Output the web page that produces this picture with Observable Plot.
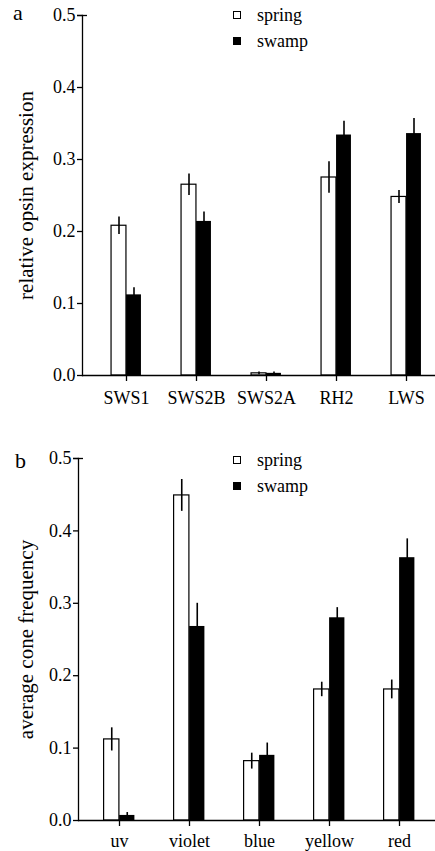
<!DOCTYPE html>
<html>
<head>
<meta charset="utf-8">
<script src="https://cdn.jsdelivr.net/npm/d3@7"></script>
<script src="https://cdn.jsdelivr.net/npm/@observablehq/plot@0.6"></script>
<style>
  html, body { margin: 0; padding: 0; background: #fff; }
  #root { position: relative; width: 435px; height: 851px; overflow: hidden; font-family: "Liberation Serif", "Times New Roman", serif; color: #000; }
  #root svg, #root svg text { font-family: "Liberation Serif", "Times New Roman", serif !important; }
  .panel { position: absolute; left: 0; }
  .letter { position: absolute; font-size: 22px; line-height: 1; }
  .leg { position: absolute; font-size: 18px; line-height: 1; display: flex; align-items: center; }
  .sw { display: inline-block; width: 8px; height: 8px; box-sizing: border-box; border: 1px solid #000; margin-right: 16px; }
</style>
</head>
<body>
<div id="root"></div>
<script>
// ---- data ----
const series = ["spring", "swamp"];

const opsins = ["SWS1", "SWS2B", "SWS2A", "RH2", "LWS"];
const opsinSpring = [0.208, 0.265, 0.003, 0.275, 0.248];
const opsinSpringErr = [0.012, 0.015, 0.002, 0.022, 0.009];
const opsinSwamp = [0.112, 0.214, 0.003, 0.334, 0.336];
const opsinSwampErr = [0.010, 0.013, 0.002, 0.019, 0.021];

const cones = ["uv", "violet", "blue", "yellow", "red"];
const coneSpring = [0.112, 0.449, 0.082, 0.181, 0.181];
const coneSpringErr = [0.016, 0.022, 0.011, 0.010, 0.013];
const coneSwamp = [0.007, 0.268, 0.090, 0.280, 0.363];
const coneSwampErr = [0.004, 0.032, 0.017, 0.014, 0.026];

const yTicks = [0, 0.1, 0.2, 0.3, 0.4, 0.5];
const yLabelA = "relative opsin expression";
const yLabelB = "average cone frequency";

const FONT = '"Liberation Serif", "Times New Roman", serif';

function rows(cats, vals, errs, s) {
  return cats.map((c, i) => ({cat: c, value: vals[i], err: errs[i], series: s}));
}

function panel({cats, spring, swamp, yLabel, height, marginTop, marginBottom, marginLeft, xRange, barW, tickPadX, tickSizeY, tickPadY, labelDx}) {
  const bw = (xRange[1] - xRange[0]) / cats.length;
  const half = barW;
  return Plot.plot({
    width: 435,
    height,
    marginTop,
    marginBottom,
    marginLeft,
    marginRight: 0,
    style: {fontFamily: FONT, fontSize: "18px", background: "transparent", color: "#000", overflow: "visible"},
    x: {type: "band", domain: cats, range: xRange, padding: 0},
    y: {domain: [0, 0.5]},
    marks: [
      Plot.barY(spring, {x: "cat", y: "value", fill: "white", stroke: "black", strokeWidth: 1.2, insetLeft: bw / 2 - half, insetRight: bw / 2}),
      Plot.barY(swamp, {x: "cat", y: "value", fill: "black", insetLeft: bw / 2, insetRight: bw / 2 - half}),
      Plot.ruleX(spring, {x: "cat", y1: d => d.value - d.err, y2: d => d.value + d.err, dx: -half / 2, stroke: "black", strokeWidth: 1.6}),
      Plot.ruleX(swamp, {x: "cat", y1: d => d.value - d.err, y2: d => d.value + d.err, dx: half / 2, stroke: "black", strokeWidth: 1.6}),
      Plot.ruleY([0], {stroke: "black", strokeWidth: 1.3}),
      Plot.frame({anchor: "left", stroke: "black", strokeWidth: 1.3}),
      Plot.axisY({ticks: yTicks, tickFormat: d3.format(".1f"), tickSize: tickSizeY, tickPadding: tickPadY, strokeWidth: 1.3, label: null, fontSize: 18}),
      Plot.axisY({ticks: [yTicks[yTicks.length - 1]], tickFormat: () => "", tickSize: 10, dx: 5, strokeWidth: 1.3, label: null}),
      Plot.axisX({tickSize: 6, tickPadding: tickPadX, strokeWidth: 1.3, label: null, fontSize: 18}),
      Plot.text([yLabel], {text: d => d, frameAnchor: "left", textAnchor: "middle", rotate: -90, dx: labelDx, fontSize: 21})
    ]
  });
}

const root = document.getElementById("root");

const a = panel({
  cats: opsins,
  spring: rows(opsins, opsinSpring, opsinSpringErr, series[0]),
  swamp: rows(opsins, opsinSwamp, opsinSwampErr, series[1]),
  yLabel: yLabelA,
  height: 425, marginTop: 15, marginBottom: 50, marginLeft: 82,
  xRange: [91, 441.5], barW: 15, tickPadX: 10, tickSizeY: 5, tickPadY: 2, labelDx: -56
});
a.classList.add("panel"); a.style.top = "0px";
root.appendChild(a);

const b = panel({
  cats: cones,
  spring: rows(cones, coneSpring, coneSpringErr, series[0]),
  swamp: rows(cones, coneSwamp, coneSwampErr, series[1]),
  yLabel: yLabelB,
  height: 426, marginTop: 33, marginBottom: 31, marginLeft: 78,
  xRange: [83, 434], barW: 15.5, tickPadX: 8, tickSizeY: 5, tickPadY: 2, labelDx: -52
});
b.classList.add("panel"); b.style.top = "425px";
root.appendChild(b);

// panel letters
function addLetter(t, left, top) {
  const el = document.createElement("div");
  el.className = "letter"; el.textContent = t;
  el.style.left = left + "px"; el.style.top = top + "px";
  root.appendChild(el);
}
addLetter("a", 13, 2);
addLetter("b", 15, 450);

// legends
function addLegend(top) {
  series.forEach((s, i) => {
    const el = document.createElement("div");
    el.className = "leg";
    el.style.left = "233px";
    el.style.top = (top + i * 26) + "px";
    const sw = document.createElement("span");
    sw.className = "sw";
    sw.style.background = i === 0 ? "#fff" : "#000";
    el.appendChild(sw);
    el.appendChild(document.createTextNode(s));
    root.appendChild(el);
  });
}
addLegend(6);
addLegend(451);
</script>
</body>
</html>
